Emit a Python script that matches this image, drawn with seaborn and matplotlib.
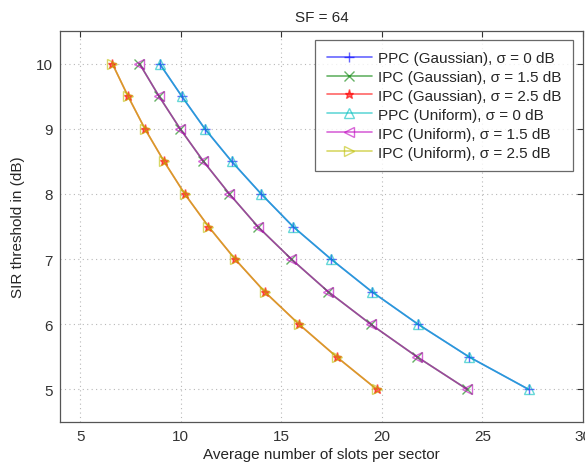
import matplotlib
matplotlib.use("Agg")
import matplotlib.pyplot as plt
import seaborn as sns
import pandas as pd

sir_db = [10.0, 9.5, 9.0, 8.5, 8.0, 7.5, 7.0, 6.5, 6.0, 5.5, 5.0]

ppc_gauss_0 = [8.95, 10.05, 11.2, 12.53, 14.0, 15.58, 17.47, 19.5, 21.8, 24.33, 27.3]
ipc_gauss_15 = [7.95, 8.92, 9.97, 11.13, 12.42, 13.83, 15.5, 17.33, 19.45, 21.75, 24.25]
ipc_gauss_25 = [6.6, 7.38, 8.22, 9.17, 10.2, 11.38, 12.7, 14.17, 15.88, 17.75, 19.75]
ppc_unif_0 = [8.95, 10.05, 11.2, 12.53, 14.0, 15.58, 17.47, 19.5, 21.8, 24.33, 27.3]
ipc_unif_15 = [7.95, 8.92, 9.97, 11.13, 12.42, 13.83, 15.5, 17.33, 19.45, 21.75, 24.25]
ipc_unif_25 = [6.6, 7.38, 8.22, 9.17, 10.2, 11.38, 12.7, 14.17, 15.88, 17.75, 19.75]

labels = [
    "PPC (Gaussian), σ = 0 dB",
    "IPC (Gaussian), σ = 1.5 dB",
    "IPC (Gaussian), σ = 2.5 dB",
    "PPC (Uniform), σ = 0 dB",
    "IPC (Uniform), σ = 1.5 dB",
    "IPC (Uniform), σ = 2.5 dB",
]
series = [ppc_gauss_0, ipc_gauss_15, ipc_gauss_25, ppc_unif_0, ipc_unif_15, ipc_unif_25]
colors = ["#0000ff", "#008000", "#ff0000", "#00bfbf", "#bf00bf", "#bfbf00"]
markers = ["+", "x", "*", "^", "<", ">"]
hollow = [False, False, False, True, True, True]

sns.set_style("white")
plt.rcParams["font.family"] = ["Liberation Sans", "DejaVu Sans"]

FS = 11

fig = plt.figure(figsize=(5.85, 4.64), dpi=100)
ax = fig.add_axes([60 / 585, 1 - 423 / 464, 523 / 585, 391 / 464])

for lab, xs, c, m, h in zip(labels, series, colors, markers, hollow):
    df = pd.DataFrame({"x": xs, "y": sir_db})
    sns.lineplot(
        data=df, x="x", y="y", ax=ax, sort=False, color=c, alpha=0.6,
        marker=m, markersize=6.5,
        markerfacecolor="none" if h else c, markeredgecolor=c,
        markeredgewidth=1.0, linewidth=1.2, label=lab, estimator=None,
    )

ax.set_xlim(4, 30)
ax.set_ylim(4.5, 10.5)
ax.set_xticks([5, 10, 15, 20, 25, 30])
ax.set_yticks([5, 6, 7, 8, 9, 10])
ax.grid(True, linestyle=(0, (1, 3)), color="#b8b8b8", linewidth=0.8)
ax.tick_params(direction="in", top=True, right=True, length=4, labelsize=FS,
               colors="#333333", width=0.8, pad=5)
for s in ax.spines.values():
    s.set_color("#555555")
    s.set_linewidth(0.9)

ax.set_xlabel("Average number of slots per sector", fontsize=FS, labelpad=3)
ax.set_ylabel("SIR threshold in (dB)", fontsize=FS, labelpad=8)
ax.set_title("SF = 64", fontsize=FS, pad=7)

leg = ax.legend(loc="upper right", bbox_to_anchor=(0.9815, 0.978), fontsize=FS,
                frameon=True, fancybox=False, edgecolor="#444444",
                handlelength=3.0, labelspacing=0.32, borderpad=0.75,
                handletextpad=0.4, borderaxespad=0.0)
leg.get_frame().set_linewidth(0.9)

fig.savefig("out.png", dpi=100)
